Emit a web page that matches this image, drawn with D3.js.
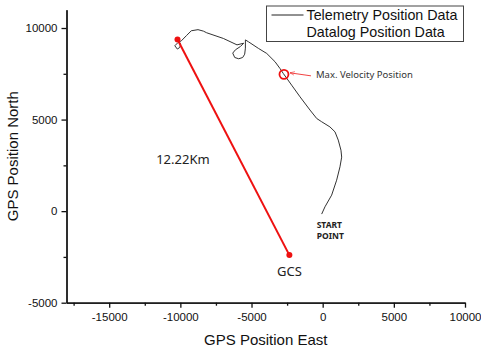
<!DOCTYPE html>
<html lang="en">
<meta charset="utf-8">
<head>
    <script src='https://d3js.org/d3.v7.min.js'></script>
    <style>
        body { margin: 0; background: #fff; }
    </style>
</head>
<body>
<script>
    // telemetry track, east / north in metres
    var trackEast = [-70, 160, 630, 980, 1215, 1335, 1285, 1095, 865, 510, -70, -420, -890, -1590, -2180,
        -2770, -3000, -3350, -3930, -4520, -5220, -5430,
        -5430, -5480, -5620, -5900, -6180, -6320, -6130, -5780, -5550,
        -6020, -6980, -8150, -8380, -8760, -9230, -9580, -9930,
        -10160, -10390, -10210, -10040, -9980, -10120]
    var trackNorth = [-160, 235, 875, 1690, 2420, 2950, 3330, 3880, 4330, 4600, 4880, 5060, 5520, 6240, 6880,
        7520, 7790, 8160, 8610, 8890, 9250, 9350,
        8900, 8570, 8390, 8320, 8390, 8630, 8810, 8990, 9170,
        9080, 9430, 9740, 9830, 9910, 9850, 9580, 9300,
        9210, 9030, 8850, 8940, 9120, 9290]

    // GCS -> farthest point
    var rangeEast = [-10200, -2340]
    var rangeNorth = [9370, -2400]

    var maxVelEast = -2720
    var maxVelNorth = 7470

    var xTicks = [-15000, -10000, -5000, 0, 5000, 10000]
    var yTicks = [-5000, 0, 5000, 10000]
    var xMinor = [-17500, -12500, -7500, -2500, 2500, 7500]
    var yMinor = [-2500, 2500, 7500]

    var legendLabels = ["Telemetry Position Data", "Datalog Position Data"]

    var width = 481, height = 348

    var svg = d3.select('body')
        .append("svg")
        .attr("width", width)
        .attr("height", height)

    var x = d3.scaleLinear()
        .domain([-18000, 10000])
        .range([66.5, 465])
    var y = d3.scaleLinear()
        .domain([-5000, 11000])
        .range([302.7, 9.7])

    var plain = function(d) { return String(d) }

    // axes
    svg.append("g")
        .attr("transform", "translate(0," + y(-5000) + ")")
        .call(d3.axisBottom(x).tickValues(xTicks).tickFormat(plain).tickSize(5).tickPadding(5.5).tickSizeOuter(0))
    svg.append("g")
        .attr("transform", "translate(" + x(-18000) + ",0)")
        .call(d3.axisLeft(y).tickValues(yTicks).tickFormat(plain).tickSize(5).tickPadding(4).tickSizeOuter(0))

    svg.append("g")
        .attr("transform", "translate(0," + y(-5000) + ")")
        .call(d3.axisBottom(x).tickValues(xMinor).tickSize(3).tickFormat("").tickSizeOuter(0))
    svg.append("g")
        .attr("transform", "translate(" + x(-18000) + ",0)")
        .call(d3.axisLeft(y).tickValues(yMinor).tickSize(3).tickFormat("").tickSizeOuter(0))

    svg.selectAll(".domain, .tick line")
        .attr("stroke", "#111")
        .attr("stroke-width", 1.3)
    svg.selectAll(".tick text")
        .attr("fill", "#111")
        .style("font-family", "'Liberation Sans', Arial, sans-serif")
        .style("font-size", "11.5px")

    svg.append("text")
        .attr("x", (x(-18000) + x(10000)) / 2)
        .attr("y", 345)
        .attr("text-anchor", "middle")
        .style("font-family", "'Liberation Sans', Arial, sans-serif")
        .style("font-size", "15px")
        .attr("fill", "#111")
        .text("GPS Position East")

    svg.append("text")
        .attr("transform", "translate(18," + (y(-5000) + y(11000)) / 2 + ") rotate(-90)")
        .attr("text-anchor", "middle")
        .style("font-family", "'Liberation Sans', Arial, sans-serif")
        .style("font-size", "15px")
        .attr("fill", "#111")
        .text("GPS Position North")

    // track
    var track = trackEast.map(function(d, i) { return [d, trackNorth[i]] })
    svg.append("path")
        .datum(track)
        .attr("fill", "none")
        .attr("stroke", "#333")
        .attr("stroke-width", 1)
        .attr("d", d3.line()
            .x(function(d) { return x(d[0]) })
            .y(function(d) { return y(d[1]) })
        )

    // red range line
    var range = rangeEast.map(function(d, i) { return [d, rangeNorth[i]] })
    svg.append("path")
        .datum(range)
        .attr("fill", "none")
        .attr("stroke", "#ee1111")
        .attr("stroke-width", 2)
        .attr("d", d3.line()
            .x(function(d) { return x(d[0]) })
            .y(function(d) { return y(d[1]) })
        )
    svg.selectAll(".rdot")
        .data(range)
        .enter()
        .append("circle")
        .attr("cx", function(d) { return x(d[0]) })
        .attr("cy", function(d) { return y(d[1]) })
        .attr("r", 3)
        .attr("fill", "#ee1111")

    // max velocity marker
    svg.append("circle")
        .attr("cx", x(maxVelEast))
        .attr("cy", y(maxVelNorth))
        .attr("r", 4.5)
        .attr("fill", "none")
        .attr("stroke", "#ee1111")
        .attr("stroke-width", 1.8)

    svg.append("defs").append("marker")
        .attr("id", "arr")
        .attr("viewBox", "0 0 10 10")
        .attr("refX", 10).attr("refY", 5)
        .attr("markerWidth", 6).attr("markerHeight", 6)
        .attr("orient", "auto")
        .append("path")
        .attr("d", "M0,1 L10,5 L0,9")
        .attr("fill", "none")
        .attr("stroke", "#ee1111")
        .attr("stroke-width", 1)

    svg.append("line")
        .attr("x1", x(maxVelEast) + 27)
        .attr("y1", y(maxVelNorth) + 1.5)
        .attr("x2", x(maxVelEast) + 6)
        .attr("y2", y(maxVelNorth) - 1.5)
        .attr("stroke", "#ee1111")
        .attr("stroke-width", 0.8)
        .attr("marker-end", "url(#arr)")

    svg.append("text")
        .attr("x", x(maxVelEast) + 32)
        .attr("y", y(maxVelNorth) + 4)
        .style("font-family", "'Noto Sans', sans-serif")
        .style("font-size", "9.5px")
        .attr("fill", "#333")
        .text("Max. Velocity Position")

    // annotations
    svg.append("text")
        .attr("x", x(-11700))
        .attr("y", y(2570))
        .style("font-family", "'Noto Sans', sans-serif")
        .style("font-size", "13px")
        .attr("fill", "#222")
        .text("12.22Km")

    svg.append("text")
        .attr("x", x(rangeEast[1]))
        .attr("y", y(rangeNorth[1]) + 21)
        .attr("text-anchor", "middle")
        .style("font-family", "'Noto Sans', sans-serif")
        .style("font-size", "13px")
        .attr("fill", "#222")
        .text("GCS")

    var start = svg.append("text")
        .style("font-family", "'Noto Sans', sans-serif")
        .style("font-size", "8.5px")
        .style("font-weight", "bold")
        .attr("fill", "#222")
    start.append("tspan").attr("x", x(trackEast[0]) - 5).attr("y", y(trackNorth[0]) + 14).text("START")
    start.append("tspan").attr("x", x(trackEast[0]) - 5).attr("y", y(trackNorth[0]) + 25).text("POINT")

    // legend
    var legend = svg.append("g")
    legend.append("rect")
        .attr("x", 266.5).attr("y", 6)
        .attr("width", 197).attr("height", 35.5)
        .attr("fill", "#fff")
        .attr("stroke", "#444")
        .attr("stroke-width", 1)
    legend.append("line")
        .attr("x1", 271.5).attr("x2", 303.5)
        .attr("y1", 15).attr("y2", 15)
        .attr("stroke", "#222")
        .attr("stroke-width", 1)
    legend.selectAll(".lt")
        .data(legendLabels)
        .enter()
        .append("text")
        .attr("x", 306.5)
        .attr("y", function(d, i) { return 20 + i * 16.5 })
        .style("font-family", "'Liberation Sans', Arial, sans-serif")
        .style("font-size", "14.3px")
        .attr("fill", "#111")
        .text(function(d) { return d })
</script>
</body>
</html>
